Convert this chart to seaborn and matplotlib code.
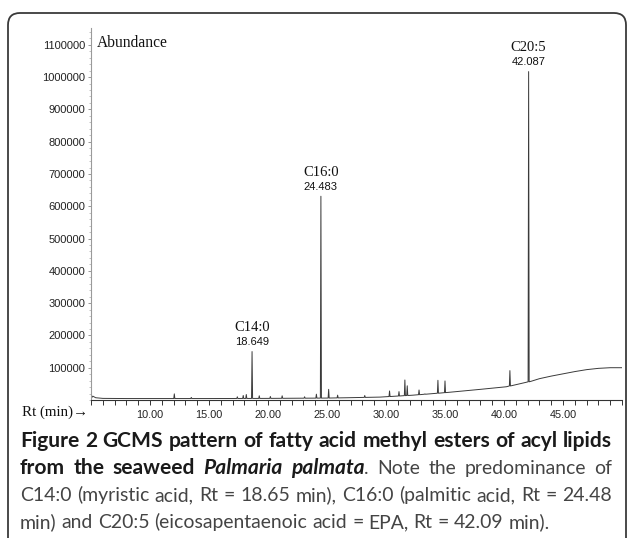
import numpy as np
import pandas as pd
import matplotlib
matplotlib.use("Agg")
import matplotlib.pyplot as plt
import seaborn as sns
from matplotlib.patches import FancyBboxPatch
from matplotlib.ticker import FixedLocator, MultipleLocator

# ---------------- data ----------------
baseline_rt = [5.0, 5.15, 5.4, 6.0, 8.0, 10.0, 15.0, 20.0, 25.0, 26.7, 29.5,
               32.3, 35.1, 38.0, 40.2, 41.9, 42.3, 43.0, 44.0, 45.0, 46.0,
               47.0, 48.0, 49.0, 50.0]
baseline_ab = [4000, 12000, 7000, 5000, 4500, 4500, 4500, 5000, 6000, 7000, 9000,
               15000, 23000, 33000, 41000, 55000, 58000, 66000, 74000, 81000, 88000,
               94000, 98000, 100000, 100000]

peak_rt = [12.06, 13.5, 17.4, 17.9, 18.16, 18.649, 19.26, 20.2, 21.2, 23.1, 24.1,
           24.483, 25.14, 25.9, 28.2, 30.3, 31.1, 31.6, 31.8, 32.8, 33.3, 34.4,
           35.0, 40.5, 42.087]
peak_ab = [19000, 8000, 10000, 14000, 17000, 150000, 13000, 11000, 13000, 10000,
           18000, 631000, 33000, 15000, 14000, 28000, 26000, 62000, 44000, 31000,
           19000, 61000, 59000, 91000, 1017000]

label_names = ["C14:0", "C16:0", "C20:5"]
label_rt = [18.649, 24.483, 42.087]
label_ab = [150000, 631000, 1017000]
label_text = ["18.649", "24.483", "42.087"]

ytick_vals = [100000, 200000, 300000, 400000, 500000, 600000, 700000, 800000,
              900000, 1000000, 1100000]
xtick_vals = [10, 15, 20, 25, 30, 35, 40, 45]

caption = [
    [("Figure", "bold", "normal", False), ("2", "bold", "normal", False),
     ("GCMS", "bold", "normal", False), ("pattern", "bold", "normal", False),
     ("of", "bold", "normal", False), ("fatty", "bold", "normal", False),
     ("acid", "bold", "normal", False), ("methyl", "bold", "normal", False),
     ("esters", "bold", "normal", False), ("of", "bold", "normal", False),
     ("acyl", "bold", "normal", False), ("lipids", "bold", "normal", False)],
    [("from", "bold", "normal", False), ("the", "bold", "normal", False),
     ("seaweed", "bold", "normal", False), ("Palmaria", "bold", "italic", False),
     ("palmata", "bold", "italic", False), (".", "normal", "normal", True),
     ("Note", "normal", "normal", False), ("the", "normal", "normal", False),
     ("predominance", "normal", "normal", False), ("of", "normal", "normal", False)],
    [(w, "normal", "normal", False) for w in
     "C14:0 (myristic acid, Rt = 18.65 min), C16:0 (palmitic acid, Rt = 24.48".split()],
    [(w, "normal", "normal", False) for w in
     "min) and C20:5 (eicosapentaenoic acid = EPA, Rt = 42.09 min).".split()],
]

# ---------------- build the trace ----------------
half_w = 0.045
xs = list(baseline_rt)
ys = list(baseline_ab)
for rt, ab in zip(peak_rt, peak_ab):
    base = float(np.interp(rt, baseline_rt, baseline_ab))
    xs += [rt - half_w, rt, rt + half_w]
    ys += [base, ab, base]
order = np.argsort(xs, kind="stable")
trace = pd.DataFrame({"rt": np.array(xs)[order], "ab": np.array(ys)[order]})

# ---------------- figure ----------------
W, H = 630, 538
sns.set_theme(style="white")
plt.rcParams["font.family"] = ["Liberation Sans", "DejaVu Sans"]
fig = plt.figure(figsize=(W / 100, H / 100), dpi=100)
fig.patch.set_facecolor("white")

def fx(px):
    return px / W

def fy(py):
    return 1 - py / H

ax = fig.add_axes([fx(91), fy(400), fx(622) - fx(91), fy(28) - fy(400)])
sns.lineplot(data=trace, x="rt", y="ab", ax=ax, sort=False, estimator=None,
             color="#3a3a3a", linewidth=0.7)
ax.set_xlim(5.0, 50.0)
ax.set_ylim(0, 1152000)
ax.set_xlabel("")
ax.set_ylabel("")
for s in ["top", "right"]:
    ax.spines[s].set_visible(False)
ax.spines["left"].set_color("#9a9a9a")
ax.spines["left"].set_linewidth(0.8)
ax.spines["bottom"].set_color("#333333")
ax.spines["bottom"].set_linewidth(0.8)
ax.set_facecolor("white")

ax.xaxis.set_major_locator(FixedLocator(xtick_vals))
ax.set_xticklabels([f"{v:.2f}" for v in xtick_vals])
ax.xaxis.set_minor_locator(MultipleLocator(1))
ax.yaxis.set_major_locator(FixedLocator(ytick_vals))
ax.set_yticklabels([str(v) for v in ytick_vals])
ax.yaxis.set_minor_locator(MultipleLocator(20000))
ax.tick_params(axis="x", which="both", direction="out", length=3.5, width=0.7,
               color="#333333", labelsize=7.8, pad=4, bottom=True)
ax.tick_params(axis="y", which="major", direction="out", length=2.5, width=0.6,
               color="#888888", labelsize=8, pad=1.5, left=True)
ax.tick_params(axis="y", which="minor", direction="out", length=1.2, width=0.5,
               color="#aaaaaa", left=True)
for lab in ax.get_xticklabels() + ax.get_yticklabels():
    lab.set_color("#222222")

serif = ["Liberation Serif", "DejaVu Serif"]
for name, rt, ab, txt in zip(label_names, label_rt, label_ab, label_text):
    ax.annotate(txt, (rt, ab), xytext=(0, 3), textcoords="offset points",
                ha="center", va="bottom", fontsize=8, color="#111111")
    ax.annotate(name, (rt, ab), xytext=(0, 12.5), textcoords="offset points",
                ha="center", va="bottom", fontsize=10.5, color="#111111",
                family=serif)

fig.text(fx(97), fy(43), "Abundance", family=serif, fontsize=11.2,
         ha="left", va="center", color="#111111")
fig.text(fx(22), fy(412), "Rt (min)\u2192", family=serif, fontsize=10.8,
         ha="left", va="center", color="#111111")

# ---------------- border ----------------
border = FancyBboxPatch((8, -20), 618, 525 + 20, transform=None,
                        boxstyle="round,pad=0,rounding_size=12",
                        facecolor="none", edgecolor="#3a3a3a", linewidth=1.3,
                        clip_on=False)
fig.patches.append(border)

# ---------------- caption ----------------
cap_font = ["Lato", "DejaVu Sans"]
renderer = fig.canvas.get_renderer()

def measure(word, size, weight, style):
    t = fig.text(0, 0, word, fontsize=size, fontweight=weight, fontstyle=style,
                 family=cap_font)
    w = t.get_window_extent(renderer).width
    t.remove()
    return w

def space(size):
    return measure("a b", size, "normal", "normal") - measure("ab", size, "normal", "normal")

def line_width(words, size):
    tot = 0
    for i, (w, wt, st, att) in enumerate(words):
        tot += measure(w, size, wt, st)
        if i > 0 and not att:
            tot += space(size)
    return tot

x0, x1 = 20, 612
ref = 10.0
size_bold = ref * (x1 - x0) / line_width(caption[0], ref)
size_reg = ref * 586 / line_width(caption[2], ref)
baselines = [447, 474, 501, 528]
for li, (words, yb) in enumerate(zip(caption, baselines)):
    sizes = [size_bold if wt == "bold" else size_reg for (w, wt, st, att) in words]
    widths = [measure(w, s, wt, st) for (w, wt, st, att), s in zip(words, sizes)]
    ngaps = sum(1 for i, wd in enumerate(words) if i > 0 and not wd[3])
    if li < 3:
        gap = (x1 - x0 - sum(widths)) / ngaps
    else:
        gap = space(size_reg)
    x = x0
    for i, ((w, wt, st, att), wd, s) in enumerate(zip(words, widths, sizes)):
        if i > 0 and not att:
            x += gap
        col = "#1a1a1a" if wt == "bold" else "#444444"
        fig.text(fx(x), fy(yb), w, fontsize=s, fontweight=wt, fontstyle=st,
                 family=cap_font, color=col, ha="left", va="baseline")
        x += wd

fig.savefig("out.png", dpi=100, facecolor="white")
